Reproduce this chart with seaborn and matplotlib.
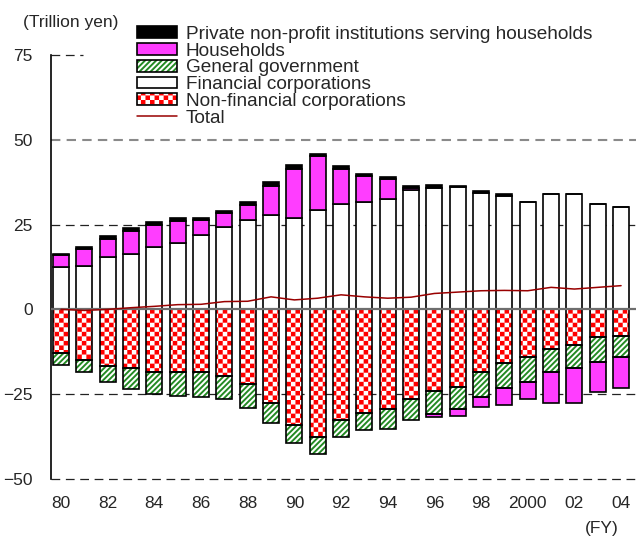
import numpy as np
import pandas as pd
import matplotlib
matplotlib.use("Agg")
import matplotlib.pyplot as plt
import matplotlib.hatch as mhatch
from matplotlib.path import Path
import seaborn as sns

# ── Data (trillion yen, FY1980-2004) ───────────────────────────────────────────
years = list(range(1980, 2005))
tick_years = list(range(1980, 2005, 2))
tick_labels = ["80", "82", "84", "86", "88", "90", "92", "94", "96", "98",
               "2000", "02", "04"]

financial = [12.4, 12.8, 15.5, 16.4, 18.3, 19.7, 21.9, 24.2, 26.5, 27.9,
             26.9, 29.3, 31.0, 31.6, 32.4, 35.2, 35.9, 36.1, 34.2, 33.3,
             31.7, 33.9, 33.9, 31.2, 30.2]
households = [3.6, 5.1, 5.3, 6.8, 6.6, 6.3, 4.5, 4.1, 4.4, 8.6,
              14.5, 15.8, 10.4, 7.6, 5.9, 0.7, -0.8, -1.9, -3.1, -4.9,
              -5.0, -9.1, -10.4, -8.9, -9.0]
npish = [0.2, 0.5, 0.7, 0.7, 0.8, 1.0, 0.6, 0.7, 0.8, 1.1,
         1.3, 0.6, 0.9, 0.7, 0.6, 0.4, 0.8, 0.2, 0.6, 0.7,
         0.0, 0.0, 0.0, 0.0, 0.0]
nonfinancial = [-13.0, -15.0, -16.8, -17.2, -18.5, -18.5, -18.5, -19.5, -22.1, -27.7,
                -34.0, -37.6, -32.6, -30.4, -29.5, -26.3, -24.0, -22.8, -18.5, -15.8,
                -14.1, -11.8, -10.4, -8.1, -7.7]
government = [-3.3, -3.5, -4.5, -6.4, -6.4, -6.9, -7.3, -6.8, -6.9, -5.8,
              -5.4, -5.0, -4.9, -5.3, -5.9, -6.2, -6.8, -6.6, -7.3, -7.4,
              -7.2, -6.8, -6.9, -7.4, -6.4]
total = [0.0, -0.3, 0.0, 0.5, 0.9, 1.4, 1.5, 2.3, 2.4, 3.7,
         2.8, 3.3, 4.3, 3.7, 3.3, 3.6, 4.7, 5.1, 5.5, 5.6,
         5.5, 6.5, 6.0, 6.5, 7.0]

df = pd.DataFrame({"year": years, "financial": financial, "households": households,
                   "npish": npish, "nonfinancial": nonfinancial,
                   "government": government, "total": total})
df["pos"] = np.arange(len(df))

HATCH_LW = 1.4  # points, shared by all hatches at draw time


# ── Checkerboard hatch (reuses the 'O' code, which is not needed here) ─────────
class CheckerHatch(mhatch.HatchPatternBase):
    def __init__(self, hatch, density):
        self.n = 22 if "O" in hatch else 0
        self.num_vertices = (self.n * self.n // 2) * 5

    def set_vertices_and_codes(self, vertices, codes):
        s = 1.0 / self.n
        # shrink each square by half the hatch stroke (tile = 100 px at dpi 100)
        d = HATCH_LW * 100 / 72 / 2 / 100
        sq = []
        for i in range(self.n):
            for j in range(self.n):
                if (i + j) % 2 == 0:
                    x0, y0 = i * s + d, j * s + d
                    x1, y1 = x0 + s - 2 * d, y0 + s - 2 * d
                    sq += [(x0, y0), (x1, y0), (x1, y1), (x0, y1), (x0, y0)]
        vertices[:] = sq
        codes[:] = [Path.MOVETO, Path.LINETO, Path.LINETO, Path.LINETO,
                    Path.CLOSEPOLY] * (len(sq) // 5)


mhatch._hatch_types = [t for t in mhatch._hatch_types
                       if t is not mhatch.LargeCircles] + [CheckerHatch]

# ── Style ─────────────────────────────────────────────────────────────────────
sns.set_style("white")
plt.rcParams["font.family"] = ["Liberation Sans", "DejaVu Sans"]
plt.rcParams["font.size"] = 12.5
plt.rcParams["hatch.linewidth"] = HATCH_LW

RED = "#ff0000"
GREEN = "#238a23"
MAGENTA = "#ff3dff"
LINE = "#990000"
W = 0.69
LW = 1.2

fig, ax = plt.subplots(figsize=(6.36, 5.38), dpi=100)
ax.set_position([51 / 636, 59 / 538, 585 / 636, 424 / 538])

# stacking: positives go up from 0, negatives go down from 0
up = np.zeros(len(df))
down = np.zeros(len(df))
bottoms = {}
for col in ["financial", "nonfinancial", "government", "households", "npish"]:
    v = df[col].to_numpy()
    bottoms[col] = np.where(v >= 0, up, down)
    up = up + np.where(v >= 0, v, 0)
    down = down + np.where(v < 0, v, 0)

x = df["pos"]

fin = ax.bar(x, df["financial"], bottom=bottoms["financial"], width=W,
             color="white", edgecolor="black", linewidth=LW, zorder=2)

nfc_fill = ax.bar(x, df["nonfinancial"], bottom=bottoms["nonfinancial"], width=W,
                  color="white", edgecolor=RED, hatch="O", linewidth=0, zorder=2)
nfc_edge = ax.bar(x, df["nonfinancial"], bottom=bottoms["nonfinancial"], width=W,
                  fill=False, edgecolor="black", linewidth=LW, zorder=2.1)

gg_fill = ax.bar(x, df["government"], bottom=bottoms["government"], width=W,
                 color="white", edgecolor=GREEN, hatch="//////", linewidth=0, zorder=2)
gg_edge = ax.bar(x, df["government"], bottom=bottoms["government"], width=W,
                 fill=False, edgecolor="black", linewidth=LW, zorder=2.1)

hh = ax.bar(x, df["households"], bottom=bottoms["households"], width=W,
            color=MAGENTA, edgecolor="black", linewidth=LW, zorder=2)
npi = ax.bar(x, df["npish"], bottom=bottoms["npish"], width=W,
             color="black", edgecolor="black", linewidth=LW, zorder=2)

sns.lineplot(x=x, y=df["total"], color=LINE, linewidth=1.1, ax=ax, zorder=4)

# reference lines
ax.axhline(0, color="#6e6e6e", linewidth=1.6, zorder=3)
ax.axhline(50, color="#8a8a8a", linewidth=1.5, linestyle=(0, (4.5, 3)), zorder=0.5)
for yv in (25, -25):
    ax.axhline(yv, color="#222222", linewidth=0.9, linestyle=(0, (7, 4.5)), zorder=0.5)
ax.axhline(-50, color="#222222", linewidth=0.9, linestyle=(0, (7, 4.5)),
           zorder=0.5, clip_on=False)
ax.axhline(75, xmax=0.055, color="#222222", linewidth=0.9,
           linestyle=(0, (7, 4.5)), zorder=0.5, clip_on=False)

ax.set_xlim(-0.43, 24.64)
ax.set_ylim(-50, 75)
ax.set_yticks([75, 50, 25, 0, -25, -50])
ax.set_xticks([years.index(y) for y in tick_years])
ax.set_xticklabels(tick_labels)
ax.tick_params(axis="y", length=0, pad=13, labelsize=12.5)
ax.tick_params(axis="x", length=0, pad=12, labelsize=12.5)
ax.set_xlabel("")
ax.set_ylabel("")
for side in ["top", "right", "bottom"]:
    ax.spines[side].set_visible(False)
ax.spines["left"].set_color("black")
ax.spines["left"].set_linewidth(1.2)

fig.text(23 / 636, 1 - 22 / 538, "(Trillion yen)", ha="left", va="center", fontsize=12.5)
fig.text(602 / 636, 1 - 528 / 538, "(FY)", ha="center", va="center", fontsize=12.5)

handles = [npi, hh, (gg_fill, gg_edge), fin, (nfc_fill, nfc_edge),
           ax.get_lines()[0]]
labels = ["Private non-profit institutions serving households", "Households",
          "General government", "Financial corporations",
          "Non-financial corporations", "Total"]
ax.legend(handles, labels, loc="upper left",
          bbox_to_anchor=(137 / 636, 1 - 26 / 538), bbox_transform=fig.transFigure,
          frameon=False, borderpad=0, borderaxespad=0, handlelength=2.1,
          handleheight=0.58, handletextpad=0.47, labelspacing=-0.015, fontsize=13.7)

fig.savefig("out.png", dpi=100)
